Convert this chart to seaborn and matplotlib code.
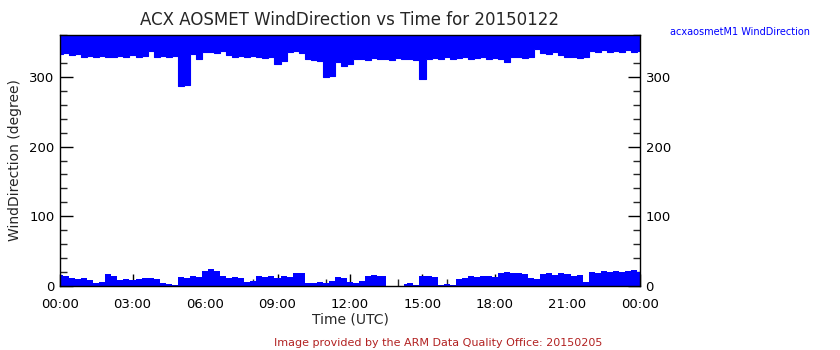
import numpy as np
import pandas as pd
import matplotlib
matplotlib.use("Agg")
import matplotlib.pyplot as plt
import seaborn as sns
from matplotlib.ticker import MultipleLocator

# ---- data (hours UTC on a 15-minute grid, wind direction envelope in degrees) ----
hours = np.arange(97) * 0.25

# lower edge of the band of northerly (~330-360 deg) readings
upper_band_low = [
    333, 334, 332, 333, 329, 330, 328, 330, 329, 328, 330, 329, 331, 328, 330, 337,
    329, 330, 328, 330, 287, 289, 333, 325, 335, 336, 334, 337, 331, 329, 330, 328,
    330, 329, 327, 328, 318, 322, 335, 337, 334, 326, 324, 323, 300, 301, 321, 316,
    318, 325, 326, 324, 327, 325, 326, 324, 327, 325, 326, 324, 297, 326, 327, 325,
    328, 326, 327, 328, 326, 327, 329, 326, 327, 325, 321, 328, 329, 327, 328, 340,
    334, 333, 335, 332, 328, 328, 327, 329, 337, 336, 338, 336, 337, 336, 338, 336,
    337,
]
# upper edge of the band of ~0-25 deg readings
lower_band_high = [
    16, 15, 12, 10, 11, 9, 5, 6, 17, 15, 9, 10, 8, 10, 11, 12,
    10, 4, 3, 2, 13, 12, 14, 13, 22, 24, 21, 14, 12, 13, 11, 6,
    7, 14, 13, 15, 12, 14, 13, 19, 18, 4, 5, 6, 5, 7, 13, 12,
    6, 5, 7, 15, 16, 14, 15, 0, 0, 3, 4, 2, 14, 15, 13, 2,
    3, 2, 10, 11, 14, 13, 15, 14, 13, 19, 20, 18, 19, 17, 11, 10,
    17, 18, 16, 18, 17, 15, 16, 6, 20, 19, 21, 20, 22, 20, 21, 23,
    20,
]
top_value = 360

x_ticks = [0, 3, 6, 9, 12, 15, 18, 21, 24]
x_labels = ["00:00", "03:00", "06:00", "09:00", "12:00", "15:00", "18:00", "21:00", "00:00"]

title = "ACX AOSMET WindDirection vs Time for 20150122"
legend_label = "acxaosmetM1 WindDirection"
footer = "Image provided by the ARM Data Quality Office: 20150205"

df = pd.DataFrame({"hours": hours, "hi": upper_band_low, "lo": lower_band_high})

# ---- plot ----
sns.set_theme(style="ticks")
plt.rcParams["font.family"] = ["DejaVu Sans"]
fig = plt.figure(figsize=(8.4, 3.5), dpi=100)
ax = fig.add_axes([60 / 840, 1 - 286 / 350, 580 / 840, 251 / 350])

blue = "#0000ff"
ax.fill_between(df["hours"], df["hi"], top_value, step="mid", color=blue, lw=0)
ax.fill_between(df["hours"], 0, df["lo"], step="mid", color=blue, lw=0,
                where=df["lo"] > 0)
sns.lineplot(data=df, x="hours", y="hi", ax=ax, color=blue, lw=0.8,
             drawstyle="steps-mid", legend=False)

ax.set_xlim(0, 24)
ax.set_ylim(0, 360)
ax.set_xticks(x_ticks)
ax.set_xticklabels(x_labels)
ax.xaxis.set_minor_locator(MultipleLocator(1))
ax.yaxis.set_major_locator(MultipleLocator(100))
ax.yaxis.set_minor_locator(MultipleLocator(20))

ax.tick_params(axis="both", which="major", direction="in", length=9, width=1,
               labelsize=9.5, colors="black", pad=4)
ax.tick_params(axis="both", which="minor", direction="in", length=5, width=1)
ax.tick_params(axis="x", which="major", pad=9)
ax.tick_params(axis="y", which="both", left=True, right=True, labelleft=True, labelright=True)
ax.tick_params(axis="x", which="both", top=False, bottom=True)

for s in ax.spines.values():
    s.set_visible(True)
    s.set_color("black")
    s.set_linewidth(1)

ax.set_xlabel("Time (UTC)", fontsize=10, labelpad=1)
ax.set_ylabel("WindDirection (degree)", fontsize=10, labelpad=5)
ax.set_title(title, fontsize=12, pad=7)

fig.text(670 / 840, 1 - 32 / 350, legend_label, color=blue, fontsize=7,
         ha="left", va="center")
fig.text(438 / 840, 1 - 343 / 350, footer, color="#b22222", fontsize=8,
         ha="center", va="center")

fig.savefig("out.png", dpi=100)
